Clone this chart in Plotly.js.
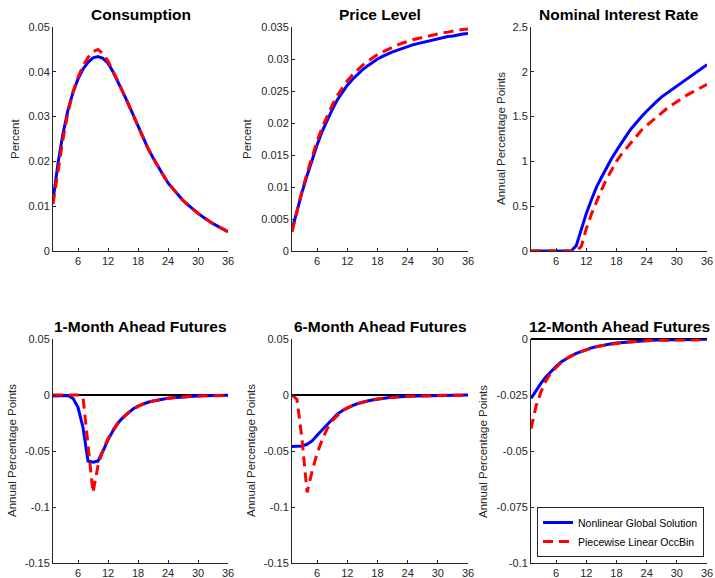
<!DOCTYPE html>
<html>
<head>
<meta charset="utf-8">
<script src="https://cdn.plot.ly/plotly-3.0.1.min.js"></script>
<style>html,body{margin:0;padding:0;background:#fff;}#chart{width:715px;height:578px;}</style>
</head>
<body>
<div id="chart"></div>
<script>
// ---------- DATA ----------
const months = [1,2,3,4,5,6,7,8,9,10,11,12,13,14,15,16,17,18,19,20,21,22,23,24,25,26,27,28,29,30,31,32,33,34,35,36];

const panelTitles = ["Consumption", "Price Level", "Nominal Interest Rate",
                     "1-Month Ahead Futures", "6-Month Ahead Futures", "12-Month Ahead Futures"];
const yTitles = ["Percent", "Percent", "Annual Percentage Points",
                 "Annual Percentage Points", "Annual Percentage Points", "Annual Percentage Points"];
const seriesNames = ["Nonlinear Global Solution", "Piecewise Linear OccBin"];

const xTickVals = [6, 12, 18, 24, 30, 36];

const consTicks = [0, 0.01, 0.02, 0.03, 0.04, 0.05];
const consTickText = ["0", "0.01", "0.02", "0.03", "0.04", "0.05"];
const priceTicks = [0, 0.005, 0.01, 0.015, 0.02, 0.025, 0.03, 0.035];
const priceTickText = ["0", "0.005", "0.01", "0.015", "0.02", "0.025", "0.03", "0.035"];
const rateTicks = [0, 0.5, 1, 1.5, 2, 2.5];
const rateTickText = ["0", "0.5", "1", "1.5", "2", "2.5"];
const futTicks = [-0.15, -0.1, -0.05, 0, 0.05];
const futTickText = ["-0.15", "-0.1", "-0.05", "0", "0.05"];
const fut12Ticks = [-0.1, -0.075, -0.05, -0.025, 0];
const fut12TickText = ["-0.1", "-0.075", "-0.05", "-0.025", "0"];

// Consumption
const consNL = [0.0113,0.0196,0.0262,0.0315,0.0354,0.0384,0.0406,0.0421,0.0431,0.0434,0.0430,0.0419,
                0.0400,0.0378,0.0354,0.0330,0.0304,0.0278,0.0253,0.0229,0.0208,0.0188,0.0170,0.0152,
                0.0139,0.0126,0.0113,0.0103,0.0093,0.0084,0.0076,0.0068,0.0061,0.0055,0.0049,0.0043];
const consOB = [0.0105,0.0182,0.0250,0.0310,0.0355,0.0388,0.0413,0.0432,0.0445,0.0450,0.0440,0.0424,
                0.0402,0.0379,0.0354,0.0330,0.0304,0.0278,0.0253,0.0229,0.0208,0.0188,0.0170,0.0152,
                0.0139,0.0126,0.0113,0.0103,0.0093,0.0084,0.0076,0.0068,0.0061,0.0055,0.0049,0.0043];
// Price level
const priceNL = [0.0033,0.0064,0.0092,0.0118,0.0143,0.0166,0.0187,0.0205,0.0221,0.0236,0.0248,0.0259,
                 0.0268,0.0276,0.0283,0.0289,0.0295,0.0300,0.0304,0.0308,0.0311,0.0314,0.0317,0.0320,
                 0.0322,0.0324,0.0326,0.0328,0.0330,0.0331,0.0333,0.0335,0.0336,0.0338,0.0339,0.0340];
const priceOB = [0.0030,0.0063,0.0094,0.0122,0.0148,0.0172,0.0193,0.0212,0.0228,0.0243,0.0255,0.0266,
                 0.0275,0.0283,0.0290,0.0296,0.0302,0.0307,0.0311,0.0315,0.0319,0.0322,0.0325,0.0328,
                 0.0330,0.0332,0.0334,0.0336,0.0338,0.0339,0.0341,0.0342,0.0344,0.0345,0.0346,0.0347];
// Nominal interest rate
const rateNL = [0,0,0,0,0,0,0,0,0,0.06,0.24,0.42,
                0.57,0.71,0.82,0.93,1.03,1.12,1.21,1.29,1.37,1.44,1.50,1.56,
                1.62,1.67,1.72,1.76,1.80,1.84,1.88,1.92,1.96,2.00,2.04,2.08];
const rateOB = [0,0,0,0,0,0,0,0,0,0,0.05,0.25,
                0.41,0.55,0.68,0.80,0.90,1.00,1.08,1.15,1.22,1.29,1.35,1.40,
                1.45,1.50,1.55,1.59,1.63,1.67,1.71,1.74,1.77,1.80,1.83,1.86];
// 1-month ahead futures
const fut1NL = [-0.001,-0.001,-0.0008,-0.0005,-0.003,-0.011,-0.029,-0.059,-0.060,-0.059,-0.050,-0.040,
                -0.032,-0.025,-0.020,-0.016,-0.0125,-0.010,-0.008,-0.0065,-0.0053,-0.0043,-0.0035,-0.0029,
                -0.0024,-0.0020,-0.0016,-0.0013,-0.0011,-0.0009,-0.0007,-0.0006,-0.0005,-0.0004,-0.0003,-0.0003];
const fut1OB = [0,0,0,0,0,0,-0.002,-0.045,-0.087,-0.063,-0.049,-0.039,
                -0.031,-0.025,-0.020,-0.016,-0.0125,-0.010,-0.008,-0.0065,-0.0053,-0.0043,-0.0035,-0.0029,
                -0.0024,-0.0020,-0.0016,-0.0013,-0.0011,-0.0009,-0.0007,-0.0006,-0.0005,-0.0004,-0.0003,-0.0003];
// 6-month ahead futures
const fut6NL = [-0.046,-0.046,-0.0455,-0.044,-0.041,-0.036,-0.031,-0.026,-0.021,-0.017,-0.014,-0.0115,
                -0.0095,-0.0078,-0.0064,-0.0053,-0.0044,-0.0036,-0.0030,-0.0025,-0.0021,-0.0017,-0.0014,-0.0012,
                -0.0010,-0.0008,-0.0007,-0.0006,-0.0005,-0.0004,-0.0003,-0.0003,-0.0002,-0.0002,-0.0002,-0.0001];
const fut6OB = [0,-0.004,-0.040,-0.087,-0.068,-0.052,-0.040,-0.030,-0.023,-0.018,-0.014,-0.0115,
                -0.0095,-0.0078,-0.0064,-0.0053,-0.0044,-0.0036,-0.0030,-0.0025,-0.0021,-0.0017,-0.0014,-0.0012,
                -0.0010,-0.0008,-0.0007,-0.0006,-0.0005,-0.0004,-0.0003,-0.0003,-0.0002,-0.0002,-0.0002,-0.0001];
// 12-month ahead futures
const fut12NL = [-0.0265,-0.0230,-0.0197,-0.0168,-0.0143,-0.0122,-0.0103,-0.0088,-0.0075,-0.0064,-0.0055,-0.0047,
                 -0.0040,-0.0034,-0.0029,-0.0025,-0.0021,-0.0018,-0.0016,-0.0013,-0.0011,-0.0010,-0.0008,-0.0007,
                 -0.0006,-0.0005,-0.0005,-0.0004,-0.0003,-0.0003,-0.0003,-0.0002,-0.0002,-0.0002,-0.0001,-0.0001];
const fut12OB = [-0.0400,-0.0300,-0.0235,-0.0185,-0.0150,-0.0125,-0.0104,-0.0088,-0.0076,-0.0065,-0.0056,-0.0048,
                 -0.0041,-0.0035,-0.0030,-0.0026,-0.0022,-0.0019,-0.0017,-0.0014,-0.0012,-0.0011,-0.0009,-0.0008,
                 -0.0007,-0.0006,-0.0006,-0.0005,-0.0005,-0.0004,-0.0004,-0.0004,-0.0003,-0.0003,-0.0003,-0.0003];

// ---------- LAYOUT ----------
const W = 715, H = 578;
const FONT = "Liberation Sans, Arial, Helvetica, sans-serif";
const AX = "#262626";
const colsPx = [[53, 228], [292, 468], [531, 707]];
const rowsPx = [[27, 251], [339, 563]];
const titleYpx = [14, 326];
const yTitleXpx = [15, 247, 501, 12, 251, 483];

const panels = [
  {nl: consNL,  ob: consOB,  range: [0, 0.05],   tv: consTicks,  tt: consTickText,  zero: false},
  {nl: priceNL, ob: priceOB, range: [0, 0.035],  tv: priceTicks, tt: priceTickText, zero: false},
  {nl: rateNL,  ob: rateOB,  range: [0, 2.5],    tv: rateTicks,  tt: rateTickText,  zero: false},
  {nl: fut1NL,  ob: fut1OB,  range: [-0.15, 0.05], tv: futTicks, tt: futTickText,  zero: true},
  {nl: fut6NL,  ob: fut6OB,  range: [-0.15, 0.05], tv: futTicks, tt: futTickText,  zero: true},
  {nl: fut12NL, ob: fut12OB, range: [-0.1, 0],   tv: fut12Ticks, tt: fut12TickText, zero: true}
];

const data = [];
const layout = {
  width: W, height: H,
  margin: {l: 0, r: 0, t: 0, b: 0},
  paper_bgcolor: "#fff", plot_bgcolor: "#fff",
  font: {family: FONT, size: 11, color: AX},
  showlegend: true,
  legend: {
    x: 704 / W, y: 1 - 557 / H, xanchor: "right", yanchor: "bottom",
    bgcolor: "#fff", bordercolor: AX, borderwidth: 1,
    font: {family: FONT, size: 10.5, color: "#000"},
    tracegroupgap: 0, itemwidth: 30
  },
  annotations: []
};

panels.forEach((p, i) => {
  const r = Math.floor(i / 3), c = i % 3;
  const n = i + 1;
  const xa = n === 1 ? "x" : "x" + n;
  const ya = n === 1 ? "y" : "y" + n;
  const xd = [colsPx[c][0] / W, colsPx[c][1] / W];
  const yd = [1 - rowsPx[r][1] / H, 1 - rowsPx[r][0] / H];
  const common = {
    showgrid: false, showline: true, linecolor: AX, linewidth: 1,
    ticks: "inside", ticklen: 3, tickcolor: AX, tickwidth: 1,
    tickfont: {family: FONT, size: 11, color: AX}, fixedrange: true
  };
  layout["xaxis" + (n === 1 ? "" : n)] = Object.assign({}, common, {
    domain: xd, anchor: ya, range: [1, 36], tickmode: "array", tickvals: xTickVals,
    zeroline: false
  });
  layout["yaxis" + (n === 1 ? "" : n)] = Object.assign({}, common, {
    domain: yd, anchor: xa, range: p.range, tickmode: "array", tickvals: p.tv, ticktext: p.tt,
    zeroline: p.zero, zerolinecolor: "#000", zerolinewidth: 1.5
  });
  data.push({
    x: months, y: p.nl, xaxis: xa, yaxis: ya, type: "scatter", mode: "lines",
    name: seriesNames[0], legendgroup: "nl", showlegend: i === 5,
    line: {color: "#0000ff", width: 3}
  });
  data.push({
    x: months, y: p.ob, xaxis: xa, yaxis: ya, type: "scatter", mode: "lines",
    name: seriesNames[1], legendgroup: "ob", showlegend: i === 5,
    line: {color: "#ff0000", width: 3, dash: "10px,6px"}
  });
  layout.annotations.push({
    xref: "paper", yref: "paper",
    x: (colsPx[c][0] + colsPx[c][1]) / 2 / W, y: 1 - titleYpx[r] / H,
    xanchor: "center", yanchor: "middle", showarrow: false,
    text: "<b>" + panelTitles[i] + "</b>",
    font: {family: FONT, size: 15.5, color: "#000"}
  });
  layout.annotations.push({
    xref: "paper", yref: "paper",
    x: yTitleXpx[i] / W, y: (yd[0] + yd[1]) / 2,
    xanchor: "center", yanchor: "middle", showarrow: false, textangle: -90,
    text: yTitles[i],
    font: {family: FONT, size: 11.5, color: AX}
  });
});

Plotly.newPlot("chart", data, layout, {staticPlot: true, displayModeBar: false});
</script>
</body>
</html>
